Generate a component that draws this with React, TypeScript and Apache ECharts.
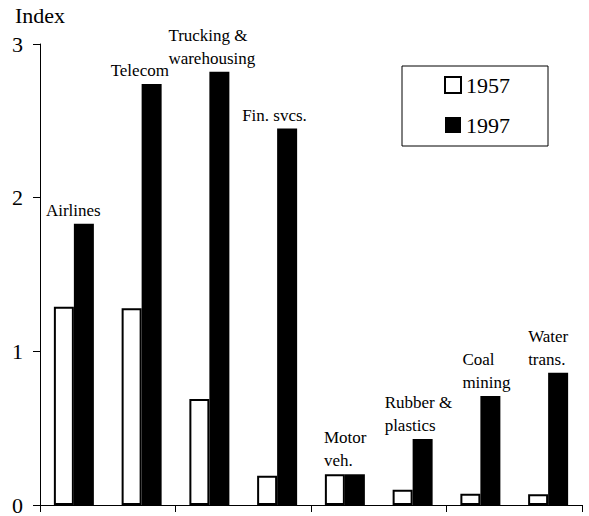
import React, { useEffect, useRef } from "react";
import * as echarts from "echarts";

const categories = [
  "Airlines",
  "Telecom",
  "Trucking &\nwarehousing",
  "Fin. svcs.",
  "Motor\nveh.",
  "Rubber &\nplastics",
  "Coal\nmining",
  "Water\ntrans.",
];
const values1957 = [1.29, 1.28, 0.69, 0.19, 0.2, 0.1, 0.074, 0.07];
const values1997 = [1.83, 2.74, 2.82, 2.45, 0.2, 0.43, 0.71, 0.86];
const yTicks = [0, 1, 2, 3];

// label layout offsets (px, relative to the 1997 bar's top-left)
const labelDx = [-28, -31, -41, -35, -21, -28, -18, -20];

const FONT = "Liberation Serif";

export default function App() {
  const ref = useRef<HTMLDivElement>(null);
  useEffect(() => {
    if (!ref.current) return;
    const chart = echarts.init(ref.current, null, { renderer: "svg" });
    chart.setOption({
      animation: false,
      textStyle: { fontFamily: FONT, color: "#000" },
      grid: { left: 40, right: 7, top: 44, bottom: 9, containLabel: false },
      legend: {
        orient: "vertical",
        left: 402,
        top: 66,
        backgroundColor: "#fff",
        borderColor: "#000",
        borderWidth: 1,
        borderRadius: 0,
        padding: [8, 38, 10, 42],
        itemGap: 18,
        itemWidth: 16,
        itemHeight: 16,
        icon: "rect",
        textStyle: { fontFamily: FONT, fontSize: 22, color: "#000" },
        data: ["1957", "1997"],
      },
      xAxis: {
        type: "category",
        data: categories,
        boundaryGap: true,
        axisLine: { show: true, lineStyle: { color: "#000", width: 1 } },
        axisTick: { show: true, length: 7, lineStyle: { color: "#000" } },
        axisLabel: { show: false },
        splitLine: { show: false },
      },
      yAxis: {
        type: "value",
        min: yTicks[0],
        max: yTicks[yTicks.length - 1],
        interval: 1,
        name: "Index",
        nameLocation: "end",
        nameGap: 18,
        nameTextStyle: { fontFamily: FONT, fontSize: 22, color: "#000" },
        axisLine: { show: true, lineStyle: { color: "#000", width: 1 } },
        axisTick: { show: true, length: 7, lineStyle: { color: "#000" } },
        axisLabel: { fontFamily: FONT, fontSize: 22, color: "#000", margin: 17 },
        splitLine: { show: false },
      },
      series: [
        {
          name: "1957",
          type: "bar",
          data: values1957,
          barWidth: 20,
          barGap: "0%",
          itemStyle: { color: "#fff", borderColor: "#000", borderWidth: 2 },
        },
        {
          name: "1997",
          type: "bar",
          data: values1997.map((v, i) => ({
            value: v,
            label: {
              show: true,
              formatter: categories[i],
              position: [labelDx[i], -2],
              align: "left",
              verticalAlign: "bottom",
              fontFamily: FONT,
              fontSize: 17,
              lineHeight: 23,
              color: "#000",
            },
          })),
          barWidth: 20,
          barGap: "0%",
          itemStyle: { color: "#000", borderColor: "#000", borderWidth: 0 },
        },
      ],
    });
    return () => chart.dispose();
  }, []);
  return (
    <div
      ref={ref}
      style={{ position: "absolute", left: 0, top: 0, width: 589, height: 516 }}
    />
  );
}
